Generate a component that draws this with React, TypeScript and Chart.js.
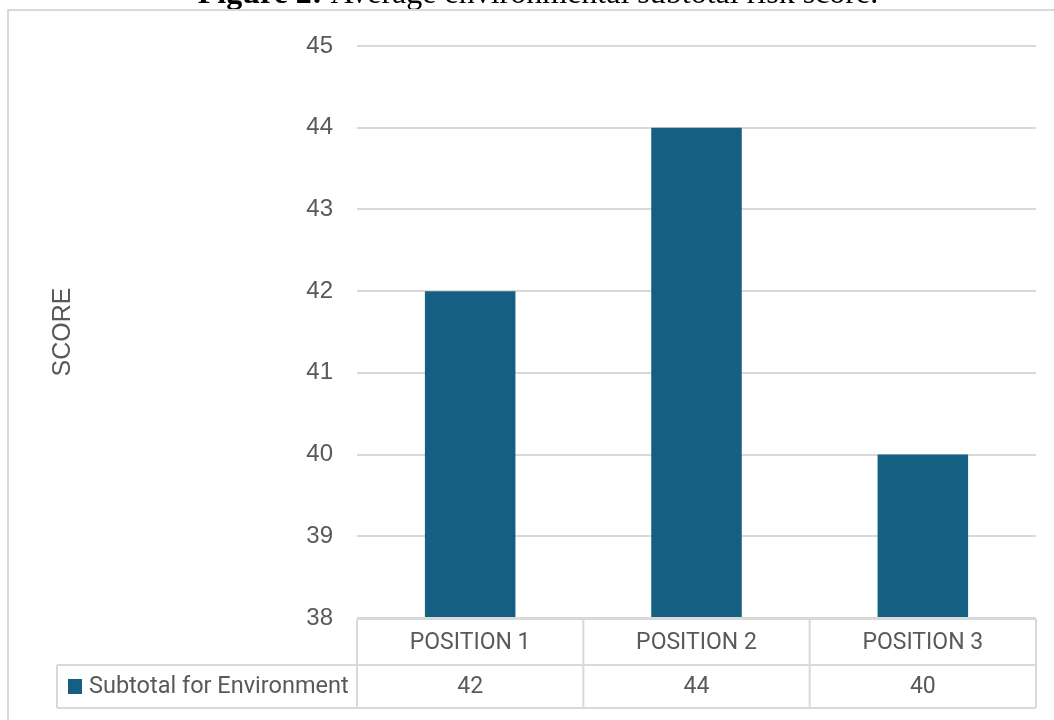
import React, { useEffect, useRef } from "react";
import { Chart, registerables } from "chart.js";

Chart.register(...registerables);

const categories = ["POSITION 1", "POSITION 2", "POSITION 3"];
const seriesName = "Subtotal for Environment";
const values = [42, 44, 40];
const yTicks = [38, 39, 40, 41, 42, 43, 44, 45];
const titleLead = "Figure 2: ";
const titleRest = "Average environmental subtotal risk score.";
const yAxisTitle = "SCORE";

const BAR = "#156082";
const TEXT = "#595959";
const LINE = "#d9d9d9";

const overlay = {
  id: "overlay",
  afterDraw(chart: any) {
    const ctx = chart.ctx as CanvasRenderingContext2D;
    const x = chart.scales.x;
    const area = chart.chartArea;
    ctx.save();

    // figure caption (mostly cut off at top): bold lead + regular rest
    ctx.fillStyle = "#000";
    ctx.textBaseline = "alphabetic";
    ctx.textAlign = "left";
    const boldFont = "bold 32px 'Liberation Serif'";
    const regFont = "32px 'Liberation Serif'";
    ctx.font = boldFont;
    const w1 = ctx.measureText(titleLead).width;
    ctx.font = regFont;
    const w2 = ctx.measureText(titleRest).width;
    const startX = 538 - (w1 + w2) / 2;
    ctx.font = boldFont;
    ctx.fillText(titleLead, startX, 3);
    ctx.font = regFont;
    ctx.fillText(titleRest, startX + w1, 3);

    // outer frame
    ctx.strokeStyle = LINE;
    ctx.lineWidth = 2;
    ctx.strokeRect(8, 10, 1060, 730);

    // y axis title
    ctx.save();
    ctx.translate(63, (area.top + area.bottom) / 2);
    ctx.rotate(-Math.PI / 2);
    ctx.fillStyle = TEXT;
    ctx.font = "25px 'Liberation Sans'";
    ctx.textAlign = "center";
    ctx.textBaseline = "middle";
    ctx.fillText(yAxisTitle, 0, 0);
    ctx.restore();

    // data table
    const n = categories.length;
    const catW = (area.right - area.left) / n;
    const rowTop = area.bottom + 1;
    const rowMid = rowTop + 46;
    const rowBot = rowMid + 43;
    const legendLeft = 57;

    ctx.strokeStyle = LINE;
    ctx.lineWidth = 2;
    ctx.beginPath();
    ctx.moveTo(area.left, rowTop);
    ctx.lineTo(area.right, rowTop);
    ctx.moveTo(legendLeft, rowMid);
    ctx.lineTo(area.right, rowMid);
    ctx.moveTo(legendLeft, rowBot);
    ctx.lineTo(area.right, rowBot);
    ctx.moveTo(legendLeft, rowMid);
    ctx.lineTo(legendLeft, rowBot);
    for (let i = 0; i <= n; i++) {
      const px = area.left + i * catW;
      ctx.moveTo(px, rowTop);
      ctx.lineTo(px, rowBot);
    }
    ctx.stroke();

    ctx.fillStyle = TEXT;
    ctx.font = "23px Roboto";
    ctx.textAlign = "center";
    ctx.textBaseline = "middle";
    categories.forEach((c, i) => {
      const cx = x.getPixelForValue(i);
      ctx.fillText(c, cx, (rowTop + rowMid) / 2 + 1);
      ctx.fillText(String(values[i]), cx, (rowMid + rowBot) / 2 + 1);
    });

    // legend key
    ctx.fillStyle = BAR;
    ctx.fillRect(68, 679, 14, 15);
    ctx.fillStyle = TEXT;
    ctx.font = "23.5px Roboto";
    ctx.textAlign = "left";
    ctx.fillText(seriesName, 89, (rowMid + rowBot) / 2 + 1);

    ctx.restore();
  },
};

export default function App() {
  const ref = useRef<HTMLCanvasElement | null>(null);
  useEffect(() => {
    if (!ref.current) return;
    const chart = new Chart(ref.current, {
      type: "bar",
      data: {
        labels: categories,
        datasets: [
          {
            label: seriesName,
            data: values,
            backgroundColor: BAR,
            barPercentage: 0.4,
            categoryPercentage: 1,
            base: 38,
          },
        ],
      },
      options: {
        responsive: false,
        devicePixelRatio: 1,
        animation: false,
        layout: { padding: { left: 0, right: 18, top: 46, bottom: 102 } },
        plugins: {
          legend: { display: false },
          tooltip: { enabled: false },
          title: { display: false },
        },
        scales: {
          x: { display: false },
          y: {
            min: yTicks[0],
            max: yTicks[yTicks.length - 1],
            afterFit(scale: any) {
              scale.width = 357;
            },
            afterBuildTicks(scale: any) {
              scale.ticks = yTicks.map((v) => ({ value: v }));
            },
            border: { display: false },
            grid: { color: LINE, lineWidth: 2, drawTicks: false },
            ticks: {
              padding: 24,
              color: TEXT,
              font: { family: "'Liberation Sans'", size: 24 },
            },
          },
        },
      },
      plugins: [overlay],
    });
    return () => chart.destroy();
  }, []);
  return (
    <div style={{ position: "fixed", left: 0, top: 0, width: 1054, height: 720, background: "#fff" }}>
      <canvas ref={ref} width={1054} height={720} style={{ display: "block" }} />
    </div>
  );
}
